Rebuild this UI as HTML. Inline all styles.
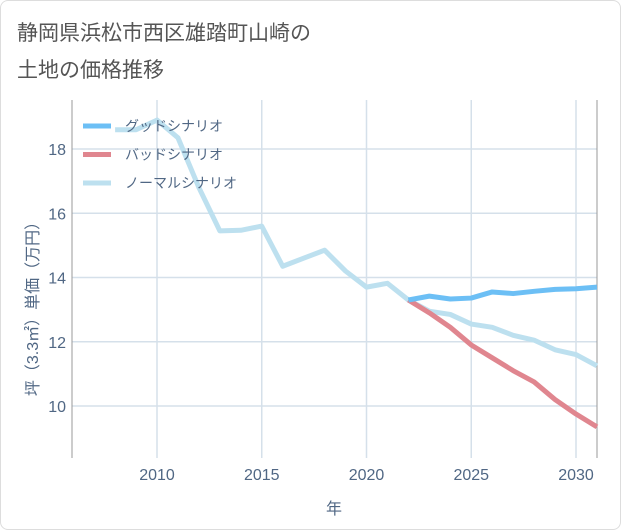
<!DOCTYPE html>
<html><head><meta charset="utf-8"><style>
body{margin:0;background:#fff;}
#wrap{position:relative;width:621px;height:530px;overflow:hidden;background:#fff;font-family:"Liberation Sans","Noto Sans CJK JP",sans-serif;}
#frame{position:absolute;left:0;top:0;width:619px;height:528px;border:1px solid #ddd;border-radius:8px;}
</style></head><body>
<div id="wrap">
<div id="frame"></div>
<svg id="chart" width="621" height="530" style="position:absolute;left:0;top:0"></svg>
</div>
<script>
const years=[2008,2009,2010,2011,2012,2013,2014,2015,2016,2017,2018,2019,2020,2021,2022,2023,2024,2025,2026,2027,2028,2029,2030,2031];
const normalVals=[18.6,18.6,18.9,18.35,16.8,15.45,15.47,15.6,14.35,14.6,14.85,14.2,13.7,13.82,13.3,12.95,12.85,12.55,12.45,12.2,12.05,11.75,11.6,11.25];
const futureYears=[2022,2023,2024,2025,2026,2027,2028,2029,2030,2031];
const goodVals=[13.3,13.42,13.33,13.36,13.55,13.5,13.57,13.63,13.65,13.7];
const badVals=[13.3,12.9,12.45,11.9,11.5,11.1,10.75,10.2,9.75,9.35];
const xTicks=[2010,2015,2020,2025,2030];
const yTicks=[10,12,14,16,18];
const legendLabels=["グッドシナリオ","バッドシナリオ","ノーマルシナリオ"];
const colors=["#6cbff5","#e0868f","#bde0ef"];

const NS="http://www.w3.org/2000/svg";
const svg=document.getElementById('chart');
const L=72,R=597,T=100,B=458;
const xs=y=>157+(y-2010)*(576-157)/20;
const ys=v=>149+(v-18)*(406-149)/(10-18);
function mk(tag,attrs,parent){const e=document.createElementNS(NS,tag);for(const k in attrs)e.setAttribute(k,attrs[k]);(parent||svg).appendChild(e);return e;}

const title=mk('text',{x:17,y:40,'font-size':21,fill:'#555'});


const t1=mk('tspan',{x:17,y:40},title);t1.textContent='静岡県浜松市西区雄踏町山崎の';
const t2=mk('tspan',{x:17,y:77},title);t2.textContent='土地の価格推移';

xTicks.forEach(t=>{
 const g=mk('line',{x1:xs(t),x2:xs(t),y1:T,y2:B,stroke:'#d5e0ea','stroke-width':1.5});
 
 
 const lb=mk('text',{x:xs(t),y:B+22,'text-anchor':'middle','font-size':16,fill:'#506784'});
 
 
 lb.textContent=t;
});
yTicks.forEach(t=>{
 const g=mk('line',{x1:L,x2:R,y1:ys(t),y2:ys(t),stroke:'#d5e0ea','stroke-width':1.5});
 
 
 const lb=mk('text',{x:L-6,y:ys(t)+6,'text-anchor':'end','font-size':16,fill:'#506784'});
 
 
 lb.textContent=t;
});
const ax=mk('line',{x1:L,x2:L,y1:T,y2:B,stroke:'#999','stroke-width':1});


const ax2=mk('line',{x1:R,x2:R,y1:T,y2:B,stroke:'#999','stroke-width':1});



function line(xv,yv,c,name){
 const p=mk('polyline',{points:xv.map((x,i)=>xs(x)+','+ys(yv[i])).join(' '),fill:'none',stroke:c,'stroke-width':5,'stroke-linejoin':'round'});
 
 
}
line(years,normalVals,colors[2],'normal-scenario-line');
line(futureYears,badVals,colors[1],'bad-scenario-line');
line(futureYears,goodVals,colors[0],'good-scenario-line');

legendLabels.forEach((s,i)=>{
 const y=126+i*28.5;
 const l=mk('line',{x1:83,x2:111,y1:y,y2:y,stroke:colors[i],'stroke-width':5});
 
 
 const tx=mk('text',{x:125,y:y+5,'font-size':14,fill:'#506784'});
 
 
 tx.textContent=s;
});

const xt=mk('text',{x:334,y:514,'text-anchor':'middle','font-size':16,fill:'#506784'});


xt.textContent='年';
const yt=mk('text',{x:0,y:0,'text-anchor':'middle','font-size':16,fill:'#506784',transform:'translate(38,305) rotate(-90)'});


yt.textContent='坪（3.3㎡）単価（万円）';
</script>
</body></html>
